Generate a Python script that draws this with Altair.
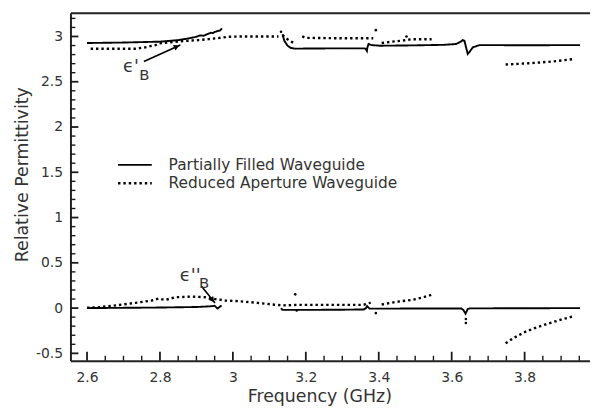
import altair as alt
import pandas as pd

# ---------------- data ----------------
series_names = ["Partially Filled Waveguide", "Reduced Aperture Waveguide"]

# Partially Filled Waveguide, real part (epsilon')
pf_re1_f = [2.60, 2.70, 2.80, 2.85, 2.88, 2.90, 2.91, 2.92, 2.93, 2.94, 2.945, 2.95, 2.96, 2.965, 2.97]
pf_re1_v = [2.928, 2.933, 2.943, 2.960, 2.980, 2.997, 3.012, 3.008, 3.026, 3.042, 3.036, 3.050, 3.062, 3.066, 3.090]
pf_re2_f = [3.136, 3.141, 3.150, 3.159, 3.170, 3.250, 3.360, 3.3635, 3.3675, 3.369, 3.372, 3.380, 3.404,
            3.500, 3.580, 3.612, 3.626, 3.630, 3.635, 3.639, 3.644, 3.648, 3.658, 3.676, 3.800, 3.952]
pf_re2_v = [3.026, 2.953, 2.898, 2.873, 2.866, 2.868, 2.869, 2.866, 2.840, 2.880, 2.917, 2.905, 2.898,
            2.902, 2.908, 2.917, 2.945, 2.960, 2.953, 2.887, 2.807, 2.825, 2.880, 2.905, 2.903, 2.905]

# Partially Filled Waveguide, imaginary part (epsilon'')
pf_im1_f = [2.60, 2.70, 2.80, 2.90, 2.94, 2.95, 2.958, 2.969]
pf_im1_v = [0.000, 0.003, 0.006, 0.012, 0.020, 0.025, -0.005, 0.030]
pf_im2_f = [3.132, 3.136, 3.200, 3.300, 3.359, 3.365, 3.368, 3.372, 3.375, 3.500, 3.626, 3.632, 3.638,
            3.644, 3.650, 3.800, 3.952]
pf_im2_v = [0.000, -0.020, -0.020, -0.018, -0.015, 0.000, 0.022, 0.005, -0.006, -0.005, -0.004, -0.020,
            -0.062, -0.010, -0.003, -0.002, 0.000]

# Reduced Aperture Waveguide, real part (epsilon')
ra_re1_f = [2.61, 2.733, 2.76, 2.788, 2.797, 2.824, 2.851, 2.878, 2.905, 2.933, 2.96, 2.987, 3.023, 3.105, 3.125]
ra_re1_v = [2.865, 2.865, 2.880, 2.905, 2.923, 2.934, 2.946, 2.953, 2.960, 2.971, 2.982, 2.997, 3.000, 3.000, 3.000]
ra_re2_f = [3.136, 3.145, 3.159, 3.170]
ra_re2_v = [3.015, 2.982, 2.945, 2.923]
ra_re3_f = [3.190, 3.200, 3.300, 3.385]
ra_re3_v = [3.000, 2.985, 2.980, 2.980]
ra_re4_f = [3.408, 3.435, 3.463, 3.490, 3.545]
ra_re4_v = [2.928, 2.942, 2.953, 2.970, 2.970]
ra_re5_f = [3.748, 3.812, 3.875, 3.938]
ra_re5_v = [2.690, 2.704, 2.723, 2.752]

# Reduced Aperture Waveguide, imaginary part (epsilon'')
ra_im1_f = [2.60, 2.63, 2.679, 2.733, 2.778, 2.797, 2.815, 2.842, 2.887, 2.924, 2.951, 2.978, 3.014, 3.068,
            3.114, 3.141, 3.180, 3.300, 3.359, 3.366, 3.378]
ra_im1_v = [0.005, 0.008, 0.030, 0.058, 0.084, 0.105, 0.090, 0.120, 0.127, 0.120, 0.100, 0.084, 0.077, 0.058,
            0.037, 0.030, 0.036, 0.036, 0.036, 0.050, 0.058]
ra_im2_f = [3.408, 3.449, 3.490, 3.517, 3.544]
ra_im2_v = [0.040, 0.069, 0.090, 0.113, 0.146]
ra_im3_f = [3.748, 3.766, 3.784, 3.803, 3.830, 3.866, 3.902, 3.937]
ra_im3_v = [-0.390, -0.340, -0.300, -0.260, -0.218, -0.170, -0.125, -0.087]

# isolated dots of the Reduced Aperture data
iso_f = [3.132, 3.392, 3.476, 3.171, 3.175, 3.392, 3.639, 3.639]
iso_v = [3.052, 3.070, 3.000, 0.152, -0.026, -0.055, -0.120, -0.165]

# annotation arrows (tail -> tip) and labels
arrow_id = ["a1", "a1", "a2", "a2"]
arrow_f = [2.756, 2.856, 2.914, 2.951]
arrow_v = [2.723, 2.906, 0.241, 0.055]
head_f = [2.846, 2.944]
head_v = [2.888, 0.089]
head_angle = [65.5, 141.7]
eps_text = ["ϵ'", "ϵ''"]
eps_f = [2.699, 2.8546]
eps_v = [2.605, 0.303]
sub_text = ["B", "B"]
sub_f = [2.743, 2.9074]
sub_v = [2.518, 0.2226]

# axes
x_domain = [2.5546, 3.9793]
y_domain = [-0.581, 3.263]
x_major = [2.6, 2.8, 3.0, 3.2, 3.4, 3.6, 3.8]
x_minor = [2.65, 2.7, 2.75, 2.85, 2.9, 2.95, 3.05, 3.1, 3.15, 3.25, 3.3, 3.35,
           3.45, 3.5, 3.55, 3.65, 3.7, 3.75, 3.85, 3.9, 3.95]
y_major = [-0.5, 0, 0.5, 1, 1.5, 2, 2.5, 3]
y_minor = [-0.4, -0.3, -0.2, -0.1, 0.1, 0.2, 0.3, 0.4, 0.6, 0.7, 0.8, 0.9, 1.1, 1.2,
           1.3, 1.4, 1.6, 1.7, 1.8, 1.9, 2.1, 2.2, 2.3, 2.4, 2.6, 2.7, 2.8, 2.9, 3.1, 3.2]

# ---------------- tables ----------------
rows = []
def add(series, seg, fs, vs):
    for f, v in zip(fs, vs):
        rows.append({"series": series, "seg": seg, "freq": f, "eps": v})

add(series_names[0], "pf_re1", pf_re1_f, pf_re1_v)
add(series_names[0], "pf_re2", pf_re2_f, pf_re2_v)
add(series_names[0], "pf_im1", pf_im1_f, pf_im1_v)
add(series_names[0], "pf_im2", pf_im2_f, pf_im2_v)
add(series_names[1], "ra_re1", ra_re1_f, ra_re1_v)
add(series_names[1], "ra_re2", ra_re2_f, ra_re2_v)
add(series_names[1], "ra_re3", ra_re3_f, ra_re3_v)
add(series_names[1], "ra_re4", ra_re4_f, ra_re4_v)
add(series_names[1], "ra_re5", ra_re5_f, ra_re5_v)
add(series_names[1], "ra_im1", ra_im1_f, ra_im1_v)
add(series_names[1], "ra_im2", ra_im2_f, ra_im2_v)
add(series_names[1], "ra_im3", ra_im3_f, ra_im3_v)
lines_df = pd.DataFrame(rows)
lines_df["order"] = range(len(lines_df))

iso_df = pd.DataFrame({"freq": iso_f, "eps": iso_v})
arrow_df = pd.DataFrame({"id": arrow_id, "freq": arrow_f, "eps": arrow_v})
head_df = pd.DataFrame({"freq": head_f, "eps": head_v, "angle": head_angle})
eps_df = pd.DataFrame({"t": eps_text, "freq": eps_f, "eps": eps_v})
sub_df = pd.DataFrame({"t": sub_text, "freq": sub_f, "eps": sub_v})

W, H = 524, 351
xs = alt.Scale(domain=x_domain, nice=False, zero=False)
ys = alt.Scale(domain=y_domain, nice=False, zero=False)

FONT = "DejaVu Sans"
TICK = "#1a1a1a"
neg_expr = "datum.value < 0 ? '-' + format(-datum.value, '.1~f') : format(datum.value, '.1~f')"

# label axes (no ticks; inward ticks are drawn as rules below)
ax_x_lab = alt.Axis(orient="bottom", values=x_major, ticks=False, domain=False, labelPadding=10,
                    title=None, labelExpr=neg_expr, grid=False)
ax_y_lab = alt.Axis(orient="left", values=y_major, ticks=False, domain=False, labelPadding=8,
                    title=None, labelExpr=neg_expr, grid=False)
# frame + titles
ax_x_frame = alt.Axis(orient="bottom", ticks=False, labels=False, domain=True, grid=False,
                      title="Frequency (GHz)", titleX=251, titleY=41, titleBaseline="alphabetic",
                      titleAlign="center", titleAnchor="start")
ax_y_frame = alt.Axis(orient="left", ticks=False, labels=False, domain=True, grid=False,
                      title="Relative Permittivity", titleX=-43, titleY=163, titleBaseline="alphabetic",
                      titleAlign="center", titleAnchor="start", titleAngle=270)
ax_x_top = alt.Axis(orient="top", ticks=False, labels=False, domain=True, grid=False, title=None)

# inward tick marks
xmaj = alt.Chart(pd.DataFrame({"v": x_major})).mark_rule(color=TICK, strokeWidth=1.8).encode(
    x=alt.X("v:Q", scale=xs, axis=ax_x_lab), y=alt.value(H), y2=alt.value(H - 9))
xmin = alt.Chart(pd.DataFrame({"v": x_minor})).mark_rule(color=TICK, strokeWidth=1.4).encode(
    x=alt.X("v:Q", scale=xs, axis=None), y=alt.value(H), y2=alt.value(H - 5))
ymaj = alt.Chart(pd.DataFrame({"v": y_major})).mark_rule(color=TICK, strokeWidth=1.8).encode(
    y=alt.Y("v:Q", scale=ys, axis=ax_y_lab), x=alt.value(0), x2=alt.value(8))
ymin = alt.Chart(pd.DataFrame({"v": y_minor})).mark_rule(color=TICK, strokeWidth=1.4).encode(
    y=alt.Y("v:Q", scale=ys, axis=None), x=alt.value(0), x2=alt.value(5))

lines = alt.Chart(lines_df).mark_line(color="black", strokeCap="butt").encode(
    x=alt.X("freq:Q", scale=xs, axis=None),
    y=alt.Y("eps:Q", scale=ys, axis=None),
    detail="seg:N",
    order="order:Q",
    strokeDash=alt.StrokeDash(
        "series:N",
        scale=alt.Scale(domain=series_names, range=[[1, 0], [2.4, 3.0]]),
        legend=alt.Legend(
            orient="none", legendX=55, legendY=144, title=None, padding=0,
            symbolType="M-2,0H2", symbolSize=289, symbolStrokeWidth=2.4,
            symbolStrokeColor="black", symbolFillColor="transparent",
            labelFont=FONT, labelFontSize=15.5, labelColor="#333", labelOffset=24,
            rowPadding=0, labelLimit=400,
        ),
    ),
    strokeWidth=alt.StrokeWidth("series:N", scale=alt.Scale(domain=series_names, range=[1.9, 2.4]),
                                legend=None),
)

iso = alt.Chart(iso_df).mark_circle(color="black", size=7, opacity=1).encode(
    x=alt.X("freq:Q", scale=xs, axis=None),
    y=alt.Y("eps:Q", scale=ys, axis=None),
)

arrows = alt.Chart(arrow_df).mark_line(color="black", strokeWidth=1.6).encode(
    x=alt.X("freq:Q", scale=xs, axis=ax_x_frame),
    y=alt.Y("eps:Q", scale=ys, axis=ax_y_frame),
    detail="id:N",
)

heads = alt.Chart(head_df).mark_point(shape="triangle-up", filled=True, color="black", size=40,
                                      opacity=1).encode(
    x=alt.X("freq:Q", scale=xs, axis=ax_x_top),
    y=alt.Y("eps:Q", scale=ys, axis=None),
    angle=alt.Angle("angle:Q", scale=None),
)

eps_lbl = alt.Chart(eps_df).mark_text(font=FONT, fontSize=18, align="left", baseline="alphabetic",
                                      color="#333").encode(
    x=alt.X("freq:Q", scale=xs, axis=None),
    y=alt.Y("eps:Q", scale=ys, axis=None),
    text="t:N",
)
sub_lbl = alt.Chart(sub_df).mark_text(font=FONT, fontSize=15, align="left", baseline="alphabetic",
                                      color="#333").encode(
    x=alt.X("freq:Q", scale=xs, axis=None),
    y=alt.Y("eps:Q", scale=ys, axis=None),
    text="t:N",
)

chart = alt.layer(lines, iso, arrows, heads, eps_lbl, sub_lbl, xmin, xmaj, ymin, ymaj).resolve_axis(
    x="independent", y="independent"
).properties(
    width=W, height=H,
    autosize=alt.AutoSizeParams(type="none"),
    padding={"left": 63, "top": 3, "right": 0, "bottom": 45},
    background="white",
).configure_view(stroke=None).configure_axis(
    labelFont=FONT, labelFontSize=14, labelColor="#333",
    domainColor="#222", domainWidth=2,
    titleFont=FONT, titleFontSize=17.5, titleFontWeight="normal", titleColor="#333",
)

chart.save("out.html", embed_options={"renderer": "svg", "actions": False})
